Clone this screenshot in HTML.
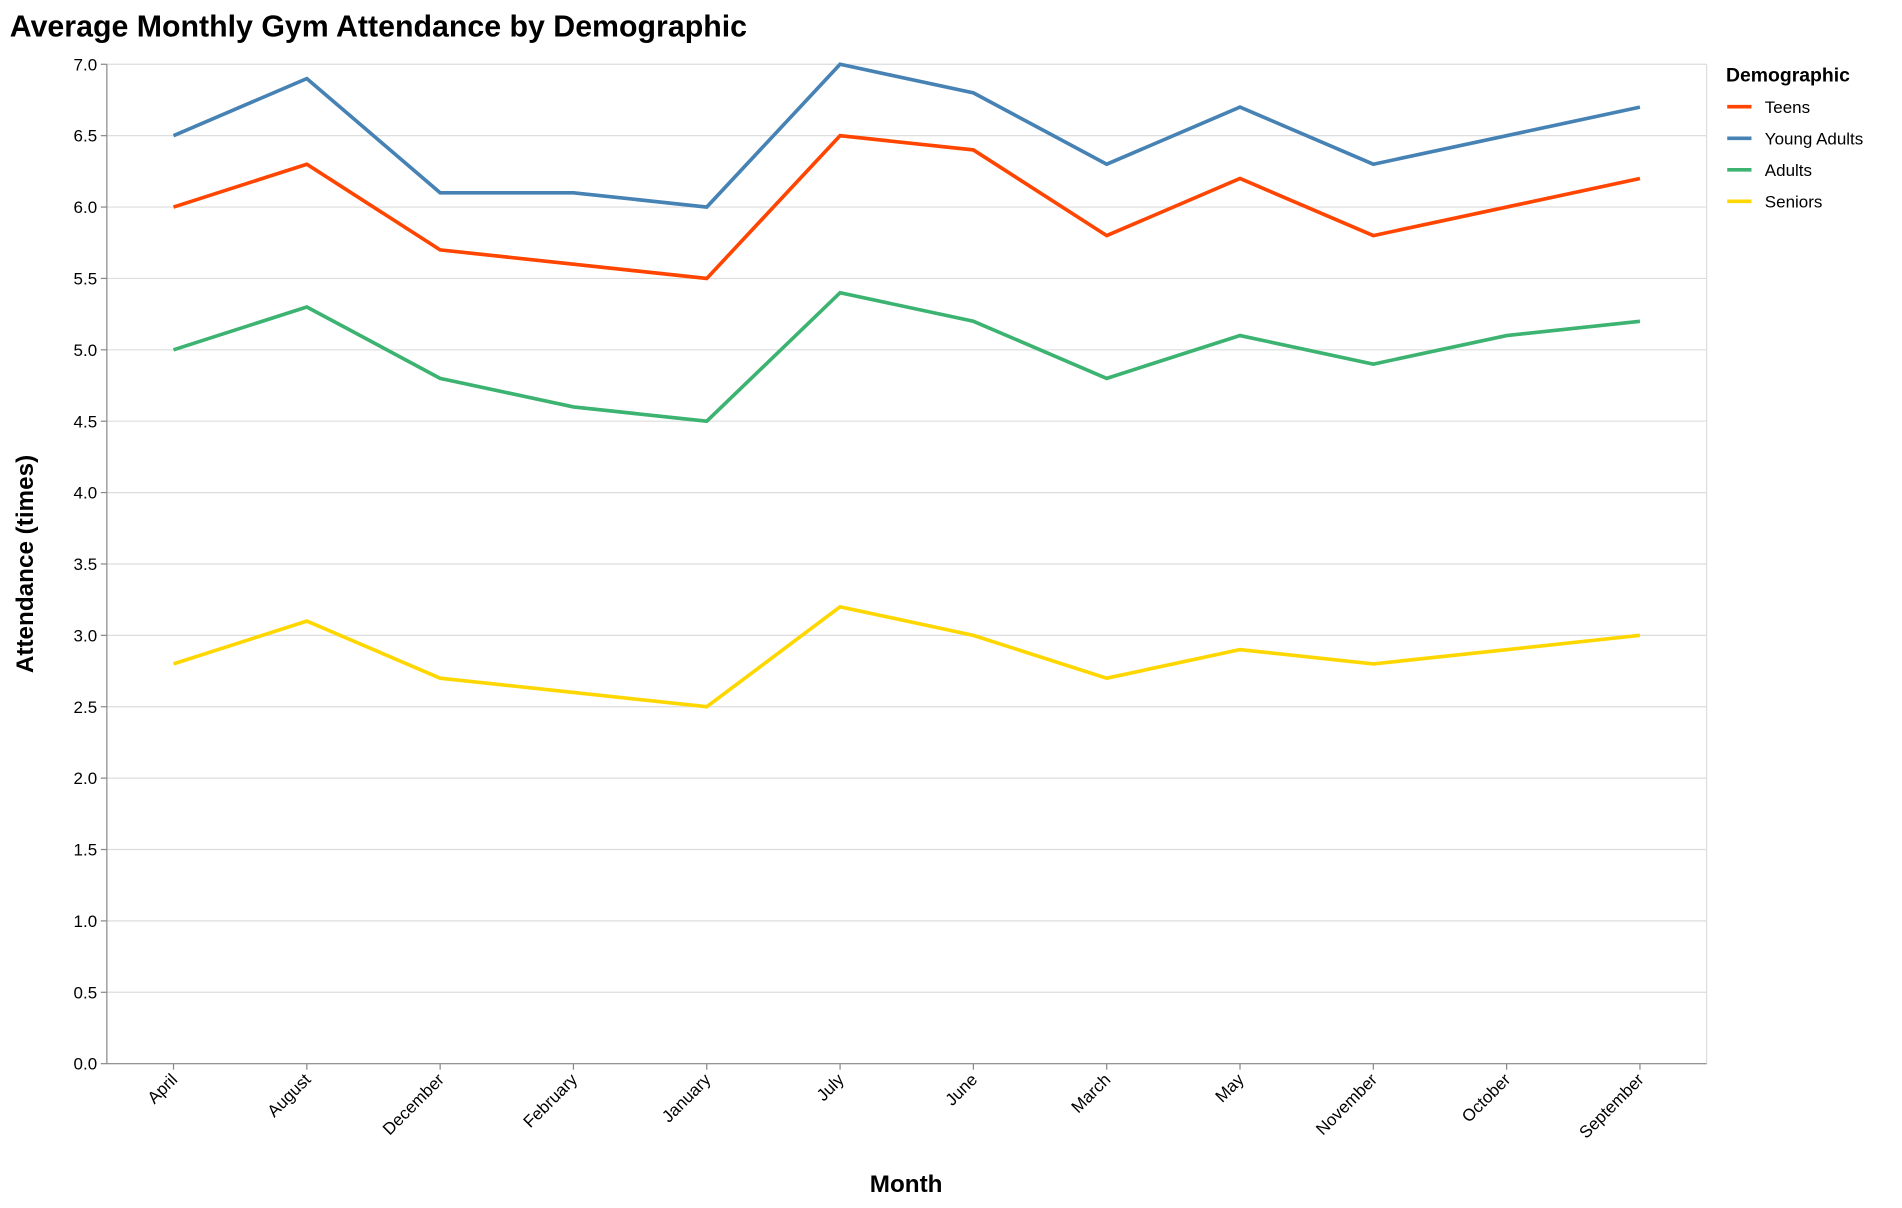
<!DOCTYPE html>
<html><head><meta charset="utf-8"><style>
html,body{margin:0;padding:0;background:#fff;}
svg{display:block;font-family:"Liberation Sans",Arial,sans-serif;}
</style></head><body>
<svg id="chart" width="1902" height="1208" viewBox="0 0 1568 996" xmlns="http://www.w3.org/2000/svg">
<text x="8" y="30" font-size="25" font-weight="bold" fill="#000">Average Monthly Gym Attendance by Demographic</text>
<g id="grid"></g>
<g id="yaxis"></g>
<g id="xaxis"></g>
<g id="lines"></g>
<text transform="translate(27,465) rotate(-90)" text-anchor="middle" font-size="20" font-weight="bold">Attendance (times)</text>
<text x="747" y="983" text-anchor="middle" font-size="20" font-weight="bold">Month</text>
<g id="legend">
<text x="1423" y="67" font-size="16" font-weight="bold">Demographic</text>
</g>
</svg>
<script>
const months = ["April","August","December","February","January","July","June","March","May","November","October","September"];
const seriesNames = ["Teens","Young Adults","Adults","Seniors"];
const teens = [6.0,6.3,5.7,5.6,5.5,6.5,6.4,5.8,6.2,5.8,6.0,6.2];
const youngAdults = [6.5,6.9,6.1,6.1,6.0,7.0,6.8,6.3,6.7,6.3,6.5,6.7];
const adults = [5.0,5.3,4.8,4.6,4.5,5.4,5.2,4.8,5.1,4.9,5.1,5.2];
const seniors = [2.8,3.1,2.7,2.6,2.5,3.2,3.0,2.7,2.9,2.8,2.9,3.0];
const yTicks = [0,0.5,1,1.5,2,2.5,3,3.5,4,4.5,5,5.5,6,6.5,7];

const NS="http://www.w3.org/2000/svg";
const colors=["#FF4500","#4682B4","#3CB371","#FFD700"];
const L=88,R=1407,T=53,B=877,yMax=7;
const step=(R-L)/months.length;
function x(i){return L+step*(i+0.5);}
function y(v){return B-(v/yMax)*(B-T);}
function mk(tag,attrs,parent){const e=document.createElementNS(NS,tag);for(const k in attrs)e.setAttribute(k,attrs[k]);parent.appendChild(e);return e;}
const grid=document.getElementById('grid'),ya=document.getElementById('yaxis'),xa=document.getElementById('xaxis'),lines=document.getElementById('lines'),leg=document.getElementById('legend');
yTicks.forEach(t=>{
  const g=mk('line',{x1:L,x2:R,y1:y(t),y2:y(t),stroke:"#ddd","stroke-width":1},grid);
  
  
  mk('line',{x1:L-5,x2:L,y1:y(t),y2:y(t),stroke:"#888"},ya);
  const tx=mk('text',{x:L-8,y:y(t)+5,"text-anchor":"end","font-size":14},ya);
  tx.textContent=t.toFixed(1);
  
  
});
mk('line',{x1:R,x2:R,y1:T,y2:B,stroke:"#ddd"},grid);
mk('line',{x1:L,x2:L,y1:T,y2:B,stroke:"#888"},ya);
mk('line',{x1:L,x2:R,y1:B,y2:B,stroke:"#888"},xa);
months.forEach((m,i)=>{
  mk('line',{x1:x(i),x2:x(i),y1:B,y2:B+5,stroke:"#888"},xa);
  const tx=mk('text',{transform:`translate(${x(i)+4},${B+14}) rotate(-45)`,"text-anchor":"end","font-size":14},xa);
  tx.textContent=m;
  
  
});
[teens,youngAdults,adults,seniors].forEach((vals,si)=>{
  const p=mk('polyline',{points:vals.map((v,i)=>x(i)+","+y(v)).join(" "),fill:"none",stroke:colors[si],"stroke-width":3,"stroke-linejoin":"miter"},lines);
  
  
  const ly=88+26*si;
  mk('line',{x1:1424,x2:1444,y1:ly,y2:ly,stroke:colors[si],"stroke-width":3},leg);
  const t=mk('text',{x:1455,y:ly+5,"font-size":14},leg);
  t.textContent=seriesNames[si];
  
  
});
</script>
</body></html>
